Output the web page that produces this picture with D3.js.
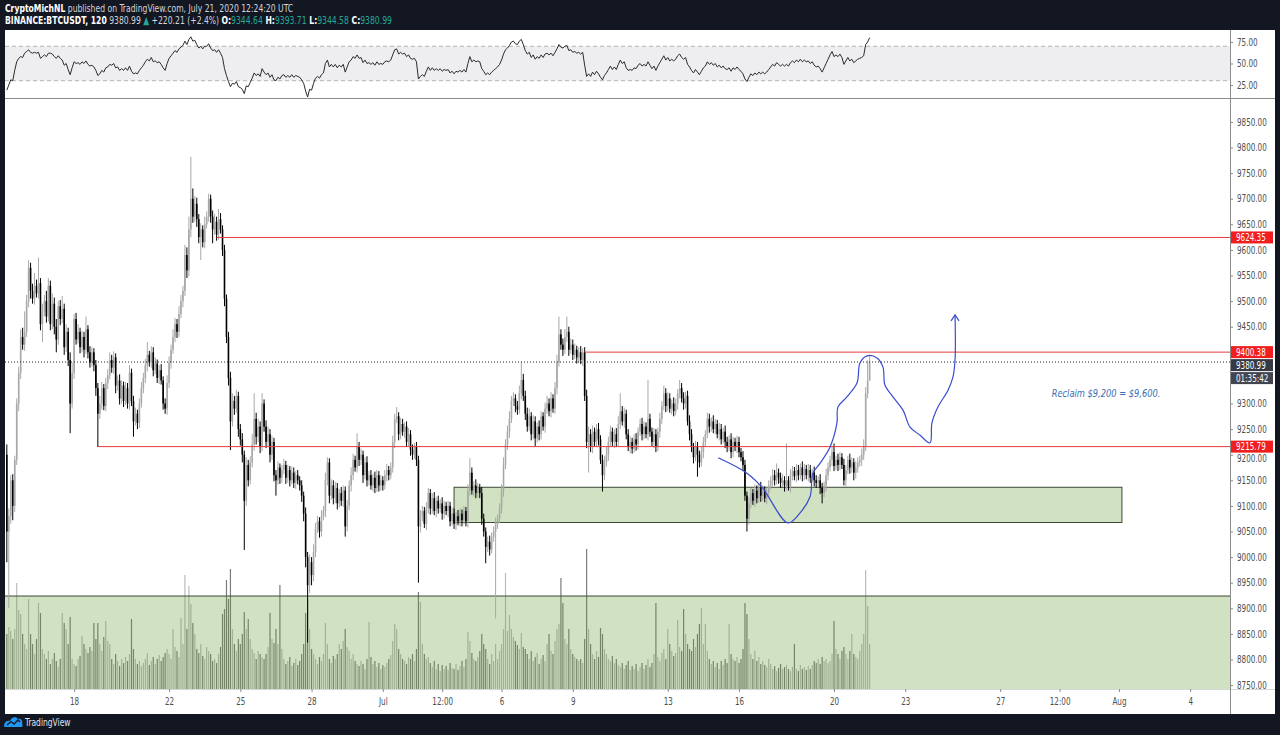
<!DOCTYPE html>
<html>
<head>
<meta charset="utf-8">
<script src="https://cdn.jsdelivr.net/npm/d3@7"></script>
<style>
  body { margin: 0; background: #131722; }
  svg { display: block; }
</style>
</head>
<body>
<script>
// BINANCE:BTCUSDT, 120 min candles, Jun 15 04:00 UTC .. Jul 21 12:00 UTC
// open of every bar is the close of the bar before it
const firstOpen = 9200;
const firstBar = "2020-06-15T04:00Z";

const closes = [
  9050, 9080, 9150, 9100, 9190, 9300, 9360, 9430, 9415, 9440,                 // Jun 15
  9500, 9565, 9520, 9505, 9530, 9515, 9535, 9455, 9480, 9500, 9470, 9530,     // Jun 16
  9455, 9495, 9450, 9425, 9490, 9465, 9485, 9410, 9440, 9385, 9300, 9360,     // Jun 17
  9465, 9425, 9440, 9410, 9430, 9405, 9445, 9400, 9380, 9400, 9375, 9330,     // Jun 18
  9280, 9300, 9330, 9295, 9340, 9355, 9385, 9370, 9390, 9335, 9345, 9310,     // Jun 19
  9335, 9305, 9330, 9300, 9360, 9305, 9265, 9280, 9262, 9300, 9330, 9350,     // Jun 20
  9375, 9395, 9380, 9400, 9365, 9378, 9350, 9365, 9345, 9300, 9290, 9340,     // Jun 21
  9380, 9405, 9430, 9455, 9440, 9475, 9500, 9520, 9590, 9560, 9640, 9700,     // Jun 22
  9665, 9690, 9660, 9625, 9640, 9615, 9650, 9665, 9700, 9665, 9640, 9655,     // Jun 23
  9630, 9660, 9640, 9600, 9505, 9430, 9350, 9265, 9305, 9290, 9315, 9250,     // Jun 24
  9230, 9200, 9110, 9180, 9150, 9185, 9220, 9270, 9235, 9255, 9215, 9300,     // Jun 25
  9255, 9225, 9240, 9200, 9225, 9160, 9150, 9175, 9155, 9170, 9180, 9155,     // Jun 26
  9170, 9150, 9165, 9145, 9160, 9150, 9140, 9120, 9085, 9000, 8945, 8990,     // Jun 27
  8965, 9010, 9055, 9070, 9050, 9080, 9090, 9150, 9185, 9120, 9140, 9115,     // Jun 28
  9135, 9105, 9125, 9110, 9130, 9060, 9100, 9140, 9160, 9190, 9175, 9215,     // Jun 29
  9190, 9200, 9160, 9185, 9150, 9160, 9140, 9155, 9135, 9160, 9140, 9150,     // Jun 30
  9140, 9160, 9170, 9160, 9175, 9225, 9270, 9275, 9240, 9260, 9245, 9255,     // Jul 1
  9225, 9240, 9210, 9200, 9215, 9190, 9060, 9080, 9090, 9065, 9095, 9125,     // Jul 2
  9095, 9115, 9090, 9110, 9095, 9105, 9085, 9100, 9090, 9100, 9070, 9085,     // Jul 3
  9065, 9080, 9070, 9085, 9072, 9090, 9070, 9130, 9165, 9130, 9140, 9125,     // Jul 4
  9135, 9125, 9075, 9050, 9020, 9030, 9015, 9040, 9050, 9065, 9075, 9095,     // Jul 5
  9130, 9180, 9220, 9245, 9270, 9305, 9310, 9295, 9288, 9320, 9346, 9315,     // Jul 6
  9280, 9255, 9275, 9240, 9265, 9232, 9255, 9240, 9275, 9255, 9290, 9300,     // Jul 7
  9285, 9310, 9290, 9330, 9380, 9435, 9415, 9405, 9430, 9440, 9405, 9415,     // Jul 8
  9395, 9405, 9390, 9400, 9385, 9400, 9315, 9225, 9240, 9215, 9245, 9225,     // Jul 9
  9250, 9230, 9190, 9160, 9185, 9200, 9225, 9245, 9225, 9240, 9225, 9260,     // Jul 10
  9285, 9265, 9280, 9240, 9215, 9225, 9212, 9230, 9220, 9245, 9260, 9240,     // Jul 11
  9255, 9240, 9270, 9245, 9225, 9240, 9215, 9245, 9270, 9295, 9320, 9295,     // Jul 12
  9310, 9290, 9300, 9285, 9300, 9320, 9330, 9310, 9300, 9315, 9265, 9240,     // Jul 13
  9215, 9195, 9215, 9200, 9185, 9205, 9225, 9240, 9270, 9255, 9265, 9250,     // Jul 14
  9260, 9240, 9250, 9230, 9245, 9225, 9215, 9230, 9205, 9225, 9215, 9225,     // Jul 15
  9205, 9195, 9180, 9120, 9075, 9105, 9125, 9110, 9130, 9115, 9135, 9120,     // Jul 16
  9130, 9115, 9125, 9140, 9150, 9160, 9150, 9165, 9155, 9145, 9150, 9140,     // Jul 17
  9150, 9138, 9160, 9168, 9158, 9170, 9160, 9175, 9160, 9172, 9160, 9170,     // Jul 18
  9155, 9165, 9150, 9145, 9150, 9135, 9125, 9140, 9160, 9175, 9190, 9205,     // Jul 19
  9178, 9190, 9180, 9195, 9180, 9150, 9170, 9190, 9175, 9185, 9165, 9175,     // Jul 20
  9185, 9190, 9200, 9215, 9320, 9344.64, 9380.99                              // Jul 21
];

// wick length above the body top / below the body bottom, USDT
const upWick = [
  20, 15, 10, 12, 8, 10, 12, 15, 18, 40,
  12, 15, 10, 14, 25, 12, 50, 10, 15, 12, 20, 15,
  10, 20, 12, 15, 10, 12, 25, 10, 15, 8, 15, 20,
  10, 12, 15, 8, 12, 10, 25, 8, 12, 10, 8, 10,
  10, 15, 12, 8, 10, 12, 15, 10, 12, 8, 10, 12,
  10, 8, 12, 10, 15, 8, 10, 12, 8, 10, 12, 10,
  12, 25, 8, 12, 10, 12, 8, 10, 12, 8, 10, 15,
  12, 10, 15, 12, 10, 15, 12, 10, 20, 15, 25, 82,
  20, 15, 12, 10, 12, 8, 15, 10, 10, 8, 12, 15,
  10, 20, 12, 8, 10, 8, 10, 12, 15, 10, 12, 8,
  10, 12, 8, 15, 10, 12, 20, 50, 12, 15, 10, 20,
  8, 12, 15, 10, 12, 8, 10, 12, 8, 10, 12, 8,
  10, 8, 12, 10, 8, 10, 8, 10, 8, 12, 10, 15,
  10, 15, 12, 10, 8, 12, 10, 15, 10, 8, 12, 10,
  12, 10, 8, 12, 10, 8, 12, 10, 15, 12, 8, 27,
  10, 12, 8, 10, 12, 8, 10, 8, 12, 10, 8, 10,
  8, 10, 12, 8, 10, 12, 10, 18, 8, 12, 10, 8,
  10, 12, 8, 10, 8, 10, 8, 12, 10, 8, 12, 10,
  8, 10, 12, 8, 10, 8, 12, 10, 8, 10, 8, 12,
  10, 8, 12, 10, 8, 10, 8, 12, 28, 10, 8, 12,
  10, 8, 12, 10, 8, 10, 12, 8, 10, 12, 8, 10,
  12, 15, 10, 12, 15, 10, 12, 8, 10, 15, 36, 12,
  10, 12, 15, 8, 12, 10, 8, 12, 10, 8, 12, 15,
  10, 12, 8, 12, 15, 35, 10, 12, 15, 30, 10, 12,
  10, 12, 8, 10, 12, 8, 10, 12, 15, 10, 12, 8,
  10, 12, 8, 10, 12, 15, 10, 12, 8, 10, 12, 15,
  35, 10, 12, 8, 10, 12, 8, 10, 12, 8, 10, 12,
  10, 8, 76, 10, 8, 12, 10, 8, 12, 10, 15, 10,
  12, 10, 8, 12, 10, 8, 16, 10, 12, 8, 10, 12,
  10, 8, 12, 10, 8, 12, 10, 8, 12, 10, 8, 12,
  10, 8, 12, 10, 8, 12, 10, 8, 12, 10, 8, 12,
  10, 8, 12, 10, 8, 12, 10, 8, 12, 10, 8, 12,
  10, 8, 12, 10, 8, 12, 10, 18, 8, 10, 12, 8,
  72, 8, 12, 10, 8, 12, 10, 8, 12, 10, 8, 12,
  10, 8, 12, 10, 8, 12, 10, 8, 12, 10, 8, 12,
  17, 8, 12, 10, 8, 12, 10, 8, 12, 10, 8, 12,
  10, 8, 12, 15, 12, 40, 12.72
];

const downWick = [
  60, 150, 15, 28, 12, 10, 15, 12, 10, 12,
  10, 12, 15, 10, 12, 8, 10, 12, 35, 10, 12, 10,
  12, 10, 15, 25, 10, 12, 8, 15, 10, 12, 58, 10,
  12, 10, 8, 12, 10, 15, 8, 12, 10, 8, 12, 15,
  65, 10, 12, 8, 10, 12, 8, 10, 12, 15, 10, 12,
  10, 12, 8, 10, 12, 10, 30, 8, 12, 10, 8, 10,
  10, 12, 8, 10, 12, 8, 10, 12, 8, 12, 10, 12,
  10, 12, 8, 10, 12, 10, 8, 12, 10, 15, 12, 15,
  12, 10, 15, 12, 45, 10, 12, 8, 10, 12, 27, 10,
  12, 10, 8, 12, 15, 12, 15, 56, 10, 12, 8, 15,
  12, 15, 96, 10, 12, 8, 10, 12, 15, 10, 12, 8,
  10, 12, 8, 15, 10, 12, 30, 8, 12, 10, 8, 12,
  10, 12, 8, 10, 12, 8, 10, 12, 15, 20, 112, 15,
  20, 12, 10, 8, 12, 10, 8, 12, 10, 15, 8, 12,
  10, 12, 8, 10, 12, 20, 10, 8, 12, 10, 8, 10,
  12, 10, 15, 8, 12, 10, 8, 12, 10, 8, 12, 10,
  10, 8, 12, 10, 8, 10, 12, 8, 12, 10, 8, 12,
  10, 8, 12, 10, 8, 12, 110, 12, 10, 8, 12, 10,
  12, 10, 8, 12, 10, 8, 12, 10, 8, 12, 10, 8,
  10, 12, 8, 10, 12, 8, 10, 12, 10, 8, 12, 10,
  8, 10, 12, 10, 32, 10, 12, 8, 10, 170, 10, 8,
  10, 12, 8, 10, 12, 8, 10, 12, 10, 8, 12, 10,
  12, 10, 8, 12, 10, 15, 8, 12, 10, 8, 12, 10,
  10, 12, 8, 10, 12, 8, 10, 12, 8, 10, 12, 8,
  10, 8, 12, 10, 8, 12, 10, 12, 60, 10, 12, 8,
  10, 12, 8, 32, 10, 8, 12, 10, 8, 12, 10, 8,
  10, 8, 12, 10, 8, 12, 10, 8, 12, 10, 8, 12,
  10, 8, 12, 10, 8, 12, 10, 8, 12, 10, 8, 12,
  10, 8, 12, 10, 8, 12, 10, 8, 12, 10, 8, 12,
  10, 12, 8, 43, 10, 8, 12, 10, 8, 12, 10, 8,
  10, 8, 12, 10, 8, 12, 10, 8, 12, 10, 8, 12,
  10, 8, 12, 10, 25, 12, 10, 8, 12, 10, 8, 12,
  10, 8, 12, 10, 8, 12, 10, 8, 12, 10, 8, 12,
  10, 8, 12, 10, 8, 12, 10, 8, 12, 10, 8, 12,
  10, 8, 12, 10, 8, 12, 20, 8, 12, 10, 8, 12,
  10, 8, 12, 10, 8, 10, 12, 8, 12, 10, 15, 12,
  10, 8, 12, 10, 8, 10, 0.06
];

// volume, BTC
const volumes = [
  5500, 6200, 5800, 5000, 6000, 10600, 7900, 7500, 5500, 4500,
  4000, 9000, 5500, 4500, 3500, 5000, 8600, 7600, 4000, 3500, 3000, 3800,
  2500, 3000, 3600, 2800, 2200, 3000, 7600, 6600, 6000, 4500, 7200, 3000,
  2500, 2300, 3000, 3300, 5300, 4500, 4000, 3600, 4200, 3800, 6600, 5000,
  6600, 4500, 3800, 5200, 6800, 4800, 4500, 3000, 2500, 3500, 2800, 2300,
  3000, 2600, 3200, 2800, 3500, 7000, 4000, 3000, 2500, 2800, 2300, 2600,
  3000, 3600, 2400, 2800, 3200, 2500, 3000, 3400, 2800, 3200, 3600, 4000,
  3500, 3000, 6000, 4200, 3800, 3200, 7100, 4500, 11400, 6000, 10300, 8500,
  6600, 5500, 4000, 3600, 4500, 3300, 3000, 4200, 3800, 3500, 2800, 3000,
  2600, 3500, 4200, 7500, 8000, 10900, 9000, 12000, 6000, 4500, 3800, 5000,
  4500, 5500, 7700, 6000, 7000, 5000, 4000, 3600, 3000, 3800, 3500, 3200,
  3000, 3500, 4200, 7600, 5000, 4600, 6000, 4500, 10400, 4000, 3000, 2500,
  2800, 3200, 2300, 2600, 3000, 2400, 2800, 3500, 4500, 7600, 9000, 6000,
  4000, 3500, 3000, 2500, 3200, 2800, 3500, 6600, 4500, 3000, 2600, 3300,
  3000, 3500, 4500, 4000, 4800, 6000, 4200, 3800, 3000, 3500, 2800, 2500,
  2300, 2800, 2500, 2000, 3000, 6700, 3200, 2500, 2800, 2200, 2600, 2000,
  2400, 2200, 2600, 3000, 3400, 4800, 6500, 6000, 4000, 3500, 3000, 2800,
  2500, 3200, 3000, 3500, 2800, 4000, 9700, 8700, 4500, 3500, 3000, 3200,
  2600, 2200, 2800, 2000, 2500, 1800, 2400, 2000, 2300, 1900, 2600, 2100,
  2000, 2500, 1900, 2300, 2800, 2200, 3000, 5700, 4800, 3600, 3000, 2800,
  3200, 3800, 5500, 4500, 4000, 3000, 2500, 3500, 2800, 4500, 3000, 3800,
  4500, 6000, 11600, 5800, 7400, 6000, 5200, 4800, 4400, 4000, 5600, 4200,
  4000, 3500, 3000, 3800, 2800, 3200, 3600, 2500, 3000, 3400, 2800, 4500,
  5500, 3800, 3500, 4800, 6000, 6500, 11100, 8600, 5000, 4500, 6000, 4000,
  3500, 3200, 3000, 2800, 3000, 2600, 5000, 14000, 6000, 4500, 3500, 3000,
  3800, 3200, 6100, 5500, 4000, 3500, 3000, 2800, 3300, 2600, 3000, 2400,
  2200, 2600, 2000, 2400, 2800, 1900, 2300, 2000, 2500, 1800, 2200, 2600,
  2000, 2400, 3000, 2200, 2600, 3500, 8600, 3200, 2800, 3600, 4000, 3000,
  6000, 4500, 3800, 3300, 3600, 6900, 4200, 3800, 8000, 5500, 4500, 4000,
  3800, 5000, 4200, 5500, 6500, 8100, 4500, 6500, 3800, 3000, 2500, 2800,
  2200, 2600, 2000, 2800, 2400, 3000, 2600, 6500, 3500, 3000, 2800, 3200,
  2600, 3000, 4000, 8600, 7500, 5000, 3500, 3000, 3800, 2800, 3200, 2500,
  2800, 2400, 2200, 3000, 2500, 2000, 2300, 1800, 2100, 2500, 2000, 2200,
  2400, 2000, 1800, 2200, 4500, 2000, 1800, 2400, 2000, 2200, 1900, 2300,
  2000, 2400, 2800, 2600, 3000, 2500, 3200, 2800, 3000, 2600, 2800, 3500,
  6800, 4000, 3500, 3000, 3800, 4200, 3500, 3000, 3800, 5500, 3500, 3200,
  3000, 3800, 4500, 5500, 11900, 8300, 4500
];

// RSI (14)
const rsi = [
  19, 25, 31, 30, 42, 52, 56, 58, 57, 62,
  64, 66, 63, 62, 63, 62, 63, 56, 58, 60, 58, 62,
  62, 61, 58, 56, 59, 56, 54, 48, 50, 43, 37, 45,
  52, 50, 51, 49, 52, 50, 53, 49, 47, 48, 46, 42,
  36, 38, 42, 40, 45, 46, 49, 48, 50, 45, 46, 42,
  44, 42, 45, 42, 47, 41, 38, 39, 38, 42, 45, 48,
  52, 55, 53, 57, 52, 53, 51, 52, 49, 45, 42, 50,
  56, 59, 62, 65, 63, 67, 69, 71, 76, 72, 78, 81,
  76, 77, 72, 68, 70, 67, 70, 70, 73, 68, 65, 66,
  63, 66, 62, 57, 44, 36, 29, 23, 27, 26, 29, 23,
  22, 20, 15, 24, 23, 28, 33, 39, 36, 38, 35, 44,
  40, 37, 39, 34, 37, 31, 30, 34, 32, 36, 37, 34,
  36, 34, 37, 34, 36, 35, 34, 31, 27, 18, 11, 20,
  19, 27, 33, 35, 33, 37, 39, 50, 54, 46, 49, 46,
  49, 45, 48, 46, 49, 40, 46, 52, 54, 58, 56, 60,
  56, 57, 51, 54, 50, 51, 49, 51, 48, 52, 49, 50,
  49, 52, 53, 52, 54, 60, 66, 67, 61, 63, 61, 62,
  58, 60, 56, 55, 56, 52, 32, 35, 37, 35, 41, 46,
  42, 45, 42, 44, 42, 44, 41, 43, 42, 43, 39, 41,
  38, 41, 40, 42, 40, 43, 40, 50, 58, 52, 54, 52,
  53, 52, 44, 41, 37, 39, 37, 40, 42, 44, 46, 49,
  54, 61, 66, 68, 71, 75, 76, 73, 72, 76, 78, 72,
  65, 61, 63, 57, 60, 55, 58, 56, 60, 57, 61, 62,
  60, 62, 59, 63, 67, 72, 69, 68, 70, 71, 65, 66,
  63, 64, 62, 63, 61, 63, 48, 35, 38, 35, 40, 37,
  41, 38, 34, 31, 36, 39, 43, 47, 43, 46, 43, 49,
  54, 50, 52, 45, 42, 43, 42, 45, 44, 48, 50, 47,
  49, 47, 52, 48, 44, 47, 42, 47, 51, 55, 59, 54,
  57, 53, 55, 53, 55, 59, 61, 57, 55, 57, 49, 46,
  42, 39, 43, 40, 37, 41, 45, 47, 52, 49, 51, 48,
  50, 46, 48, 45, 47, 44, 43, 45, 41, 45, 43, 46,
  43, 41, 38, 32, 29, 34, 38, 36, 39, 37, 40, 38,
  40, 38, 40, 43, 46, 49, 47, 51, 49, 47, 49, 47,
  49, 47, 51, 53, 51, 54, 52, 55, 52, 54, 52, 53,
  50, 52, 48, 46, 47, 44, 40, 45, 50, 55, 60, 64,
  58, 60, 58, 61, 57, 49, 53, 57, 53, 55, 51, 53,
  55, 56, 57, 59, 72, 75, 80
];

const timeTicks = ["2020-06-18T00:00Z", "2020-06-22T00:00Z", "2020-06-25T00:00Z", "2020-06-28T00:00Z",
  "2020-07-01T00:00Z", "2020-07-03T12:00Z", "2020-07-06T00:00Z", "2020-07-09T00:00Z",
  "2020-07-13T00:00Z", "2020-07-16T00:00Z", "2020-07-20T00:00Z", "2020-07-23T00:00Z",
  "2020-07-27T00:00Z", "2020-07-29T12:00Z", "2020-08-01T00:00Z", "2020-08-04T00:00Z"];
const timeLabels = ["18", "22", "25", "28", "Jul", "12:00", "6", "9", "13", "16", "20", "23", "27", "12:00", "Aug", "4"];

const priceTicks = d3.range(8750, 9851, 50);
const rsiTicks = [25, 50, 75];

// horizontal rays drawn by the author: [start, price]
const levels = [["2020-06-24T00:00Z", 9624.35], ["2020-07-09T12:00Z", 9400.38], ["2020-06-19T00:00Z", 9215.79]];
// rectangles: [start, end, top price, bottom price]
const zones = [
  ["2020-07-04T00:00Z", "2020-08-01T03:00Z", 9136.4, 9067.6],
  ["2020-06-10T00:00Z", "2020-08-20T00:00Z", 8924, 8600]
];
// freehand brush, [time, price]
const brush = [
  ["2020-07-15T03:00Z", 9194], ["2020-07-16T08:00Z", 9164], ["2020-07-16T23:00Z", 9137],
  ["2020-07-18T01:30Z", 9067], ["2020-07-18T13:30Z", 9086], ["2020-07-18T23:45Z", 9118],
  ["2020-07-19T02:45Z", 9164], ["2020-07-19T09:50Z", 9183], ["2020-07-19T20:00Z", 9215],
  ["2020-07-20T03:00Z", 9262], ["2020-07-20T04:00Z", 9293], ["2020-07-20T13:00Z", 9313],
  ["2020-07-20T23:15Z", 9340], ["2020-07-21T02:15Z", 9379], ["2020-07-21T09:25Z", 9393],
  ["2020-07-21T19:30Z", 9389], ["2020-07-22T01:30Z", 9371], ["2020-07-22T03:30Z", 9336],
  ["2020-07-22T11:35Z", 9313], ["2020-07-22T21:45Z", 9287], ["2020-07-23T04:50Z", 9254],
  ["2020-07-23T15:00Z", 9238], ["2020-07-24T01:00Z", 9223], ["2020-07-24T03:00Z", 9262],
  ["2020-07-24T09:00Z", 9293], ["2020-07-24T19:15Z", 9326], ["2020-07-25T00:15Z", 9352],
  ["2020-07-25T02:20Z", 9385], ["2020-07-25T02:20Z", 9473]
];
const note = ["2020-07-29T04:00Z", 9320, "Reclaim $9,200 = $9,600."];
const lastPrice = 9380.99;
const countdown = "01:35:42";

// ---------------------------------------------------------------
const W = 1280, H = 735;
const L = 5, R = 1230, EDGE = 1275;
const RSI_TOP = 30, RSI_BOT = 98, MAIN_BOT = 689, AXIS_BOT = 714;
const FONT = "'Liberation Sans Narrow', 'DejaVu Sans Condensed', Roboto, sans-serif";
const NARROW = 0.8;   // the snapshot font is a condensed one
const UP = "#a8a8a8", DOWN = "#000000";
const RED = "#f01e1e";

const HOUR = 3600e3;
const t0 = new Date(firstBar).getTime();
const bars = closes.map((c, i) => {
  const o = i === 0 ? firstOpen : closes[i - 1];
  return {
    t: new Date(t0 + i * 2 * HOUR), o: o, c: c,
    h: Math.max(o, c) + upWick[i], l: Math.min(o, c) - downWick[i],
    v: volumes[i], rsi: rsi[i]
  };
});

const x = d3.scaleUtc()
  .domain([new Date("2020-06-18T00:00Z"), new Date("2020-07-20T00:00Z")])
  .range([74.1, 834]);
const y = d3.scaleLinear().domain([8742.4, 9896.7]).range([MAIN_BOT, RSI_BOT]);
const yRsi = d3.scaleLinear().domain([9.9, 88.95]).range([RSI_BOT, RSI_TOP]);
const yVol = d3.scaleLinear().domain([0, 14000]).range([MAIN_BOT, MAIN_BOT - 140]);

const svg = d3.select("body").append("svg")
  .attr("width", W).attr("height", H)
  .style("font-family", FONT);

svg.append("rect").attr("width", W).attr("height", H).attr("fill", "#131722");
svg.append("rect").attr("x", L).attr("y", RSI_TOP).attr("width", EDGE - L).attr("height", AXIS_BOT - RSI_TOP).attr("fill", "#ffffff");

const defs = svg.append("defs");
defs.append("clipPath").attr("id", "clip-main").append("rect")
  .attr("x", L).attr("y", RSI_BOT).attr("width", R - L).attr("height", MAIN_BOT - RSI_BOT);
defs.append("clipPath").attr("id", "clip-rsi").append("rect")
  .attr("x", L).attr("y", RSI_TOP).attr("width", R - L).attr("height", RSI_BOT - RSI_TOP);

// ---- header (squeezed horizontally, like the condensed snapshot font)
const HEAD_SQUEEZE = 0.775;
const head1 = svg.append("text").attr("transform", `translate(5,12) scale(${HEAD_SQUEEZE},1)`)
  .attr("font-size", 11).attr("fill", "#d1d4dc");
head1.append("tspan").attr("font-weight", "bold").attr("fill", "#ffffff").text("CryptoMichNL");
head1.append("tspan").text(" published on TradingView.com, July 21, 2020 12:24:20 UTC");

const TEAL = "#26a69a";
const head2 = svg.append("text").attr("transform", `translate(5,24) scale(${HEAD_SQUEEZE},1)`)
  .attr("font-size", 11).attr("fill", "#d1d4dc");
[["BINANCE:BTCUSDT, 120", "#ffffff", true], [" 9380.99 ", "#d1d4dc", false], ["\u25B2", TEAL, false],
 [" +220.21 (+2.4%) ", "#d1d4dc", false], ["O:", "#ffffff", true], ["9344.64", TEAL, false],
 [" H:", "#ffffff", true], ["9393.71", TEAL, false], [" L:", "#ffffff", true], ["9344.58", TEAL, false],
 [" C:", "#ffffff", true], ["9380.99", TEAL, false]].forEach(p => {
  head2.append("tspan").attr("fill", p[1]).attr("font-weight", p[2] ? "bold" : "normal").text(p[0]);
});

// ---- RSI pane
const rsiG = svg.append("g").attr("clip-path", "url(#clip-rsi)");
rsiG.append("rect").attr("x", L).attr("width", R - L)
  .attr("y", yRsi(70)).attr("height", yRsi(30) - yRsi(70)).attr("fill", "#eeeef0");
rsiG.selectAll("line.band").data([70, 30]).join("line").attr("class", "band")
  .attr("x1", L).attr("x2", R).attr("y1", d => yRsi(d)).attr("y2", d => yRsi(d))
  .attr("stroke", "#b4b4b4").attr("stroke-dasharray", "4,3");
rsiG.append("path").datum(bars)
  .attr("d", d3.line().x(d => x(d.t)).y(d => yRsi(d.rsi)))
  .attr("fill", "none").attr("stroke", "#2b2b2b").attr("stroke-width", 1);

// ---- main pane
const mainG = svg.append("g").attr("clip-path", "url(#clip-main)");

mainG.append("g").selectAll("rect").data(bars).join("rect")
  .attr("x", d => x(d.t) - 0.6).attr("width", 1.2)
  .attr("y", d => yVol(d.v)).attr("height", d => MAIN_BOT - yVol(d.v))
  .attr("fill", d => d.c >= d.o ? "#bcbcbc" : "#7c7c7c");

mainG.append("g").selectAll("rect").data(zones).join("rect")
  .attr("x", d => x(new Date(d[0]))).attr("width", d => x(new Date(d[1])) - x(new Date(d[0])))
  .attr("y", d => y(d[2])).attr("height", d => y(d[3]) - y(d[2]))
  .attr("fill", "rgba(104,159,56,0.3)").attr("stroke", "#3c4a36").attr("stroke-width", 1);

mainG.append("g").selectAll("line").data(bars).join("line")
  .attr("x1", d => x(d.t)).attr("x2", d => x(d.t))
  .attr("y1", d => y(d.h)).attr("y2", d => y(d.l))
  .attr("stroke", d => d.c >= d.o ? UP : DOWN).attr("stroke-width", 1);
mainG.append("g").selectAll("rect").data(bars).join("rect")
  .attr("x", d => x(d.t) - 0.8).attr("width", 1.6)
  .attr("y", d => y(Math.max(d.o, d.c)))
  .attr("height", d => Math.max(1, Math.abs(y(d.o) - y(d.c))))
  .attr("fill", d => d.c >= d.o ? UP : DOWN);

mainG.append("line").attr("x1", L).attr("x2", R)
  .attr("y1", y(lastPrice)).attr("y2", y(lastPrice))
  .attr("stroke", "#222").attr("stroke-dasharray", "1,2");

mainG.append("g").selectAll("line").data(levels).join("line")
  .attr("x1", d => x(new Date(d[0]))).attr("x2", R)
  .attr("y1", d => y(d[1])).attr("y2", d => y(d[1]))
  .attr("stroke", "#e83a3a").attr("stroke-width", 1);

const BLUE = "#3a4ccf";
mainG.append("path").datum(brush)
  .attr("d", d3.line().curve(d3.curveCatmullRom).x(d => x(new Date(d[0]))).y(d => y(d[1])))
  .attr("fill", "none").attr("stroke", BLUE).attr("stroke-width", 1.2);
const tip = brush[brush.length - 1];
const tx = x(new Date(tip[0])), ty = y(tip[1]);
mainG.append("path").attr("d", `M${tx - 4},${ty + 6}L${tx},${ty}L${tx + 4},${ty + 6}`)
  .attr("fill", "none").attr("stroke", BLUE).attr("stroke-width", 1.2);

mainG.append("text")
  .attr("transform", `translate(${x(new Date(note[0]))},${y(note[1])}) scale(0.84,1)`)
  .attr("dy", "0.35em").attr("font-size", 11).attr("font-style", "italic")
  .attr("fill", "#3d6db0").text(note[2]);

// ---- pane borders
svg.append("line").attr("x1", L).attr("x2", EDGE).attr("y1", RSI_BOT + 0.5).attr("y2", RSI_BOT + 0.5).attr("stroke", "#8c8c8c");
svg.append("line").attr("x1", L).attr("x2", EDGE).attr("y1", MAIN_BOT + 0.5).attr("y2", MAIN_BOT + 0.5).attr("stroke", "#d6d6d6");
svg.append("line").attr("x1", R + 0.5).attr("x2", R + 0.5).attr("y1", RSI_TOP).attr("y2", AXIS_BOT).attr("stroke", "#8c8c8c");

// ---- price labels on the scale (computed first so the scale can make room)
const labels = levels.map(d => ({ p: d[1], text: d3.format(".2f")(d[1]), fill: RED }));
labels.push({ p: lastPrice, text: d3.format(".2f")(lastPrice), fill: "#363a45", sub: countdown });
labels.sort((a, b) => b.p - a.p);
const boxes = [];
let lastBottom = -Infinity;
labels.forEach(lb => {
  const top = Math.max(y(lb.p) - 6, lastBottom + 1);
  boxes.push({ top: top, text: lb.text, fill: lb.fill });
  lastBottom = top + 12;
  if (lb.sub) {
    boxes.push({ top: lastBottom + 1, text: lb.sub, fill: "#434651" });
    lastBottom += 13;
  }
});

// ---- axes
function styleAxis(g, squeezeX) {
  g.select(".domain").remove();
  g.selectAll(".tick line").attr("stroke", "#8c8c8c");
  const t = g.selectAll(".tick text").attr("fill", "#4e4e4e").attr("font-size", 10).attr("font-family", FONT);
  if (squeezeX) {
    t.attr("x", +t.attr("x") / NARROW).attr("transform", `scale(${NARROW},1)`);
  } else {
    t.attr("transform", `scale(${NARROW},1)`);
  }
}
const priceAxis = svg.append("g").attr("transform", `translate(${R},0)`)
  .call(d3.axisRight(y).tickValues(priceTicks).tickFormat(d3.format(".2f")).tickSize(3).tickPadding(4))
  .call(g => styleAxis(g, true));
// scale labels hidden under a price box are not drawn; ones half covered step aside
priceAxis.selectAll(".tick text").each(function (d) {
  const yy = y(d);
  boxes.forEach(b => {
    const c = b.top + 6, dist = yy - c;
    if (Math.abs(dist) < 6) d3.select(this).remove();
    else if (Math.abs(dist) < 12) d3.select(this).attr("y", Math.sign(dist) * (12 - Math.abs(dist)));
  });
});
svg.append("g").attr("transform", `translate(${R},0)`)
  .call(d3.axisRight(yRsi).tickValues(rsiTicks).tickFormat(d3.format(".2f")).tickSize(3).tickPadding(4))
  .call(g => styleAxis(g, true));
svg.append("g").attr("transform", `translate(0,${MAIN_BOT})`)
  .call(d3.axisBottom(x).tickValues(timeTicks.map(s => new Date(s)))
    .tickFormat((d, i) => timeLabels[i]).tickSize(3).tickPadding(6))
  .call(g => styleAxis(g, false));

boxes.forEach(b => {
  const g = svg.append("g");
  g.append("rect").attr("x", R + 1).attr("y", b.top).attr("width", 42).attr("height", 12).attr("fill", b.fill);
  g.append("text").attr("transform", `translate(${R + 6},${b.top + 6}) scale(${NARROW},1)`)
    .attr("dy", "0.35em").attr("font-size", 10).attr("fill", "#fff").text(b.text);
});

// ---- footer logo
const logo = svg.append("g").attr("transform", "translate(4,716)");
logo.append("path").attr("d", "M0,10 C0,6 3,4 6,5 C7,1 12,0 14,3 C17,2 19,5 18,8 C19,9 19,11 17,11 L1,11 C0,11 0,10 0,10Z")
  .attr("fill", "#2196f3");
logo.append("path").attr("d", "M3,9 L7,5.5 L10,8 L14,4 L16,6").attr("fill", "none").attr("stroke", "#131722").attr("stroke-width", 1.3);
svg.append("text").attr("transform", "translate(25,726) scale(0.8,1)")
  .attr("font-size", 10.5).attr("fill", "#e0e3eb").text("TradingView");
</script>
</body>
</html>
